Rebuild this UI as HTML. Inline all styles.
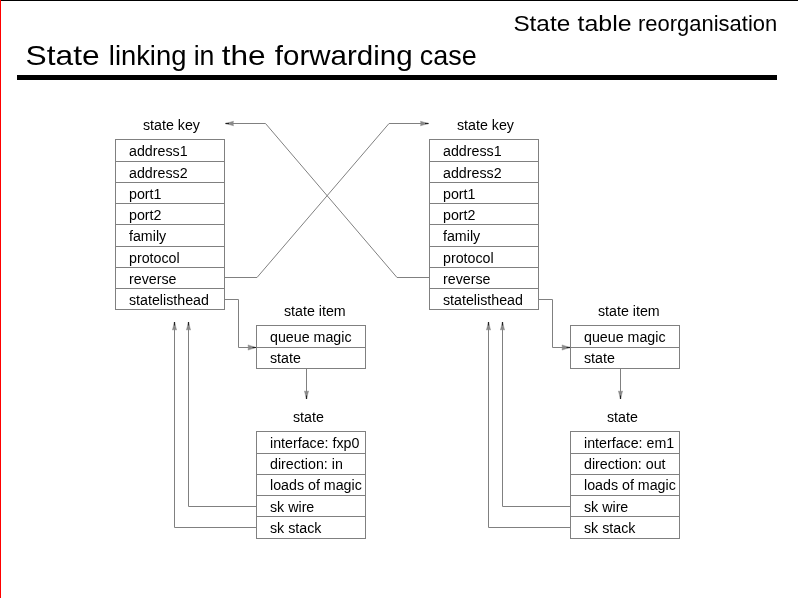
<!DOCTYPE html>
<html><head><meta charset="utf-8"><style>
html,body{margin:0;padding:0;background:#fff;}
body{width:798px;height:598px;position:relative;overflow:hidden;}
#top{position:absolute;left:0;top:0;width:798px;height:1px;background:#000;}
#left{position:absolute;left:0;top:0;width:1px;height:598px;background:#f00;}
#bar{position:absolute;left:17px;top:75px;width:760px;height:5px;background:#000;}
.t{position:absolute;font-family:"Liberation Sans",sans-serif;white-space:nowrap;color:#000;line-height:1;}
#title{left:26px;top:40px;font-size:28px;}
#sub{left:513px;top:11px;font-size:21px;}
svg{position:absolute;left:0;top:0;}
text,.t{-webkit-font-smoothing:antialiased;}
svg text{will-change:transform}
</style></head><body>
<div id="top"></div>
<svg width="798" height="598" viewBox="0 0 798 598"><g font-family="Liberation Sans" fill="#000"><text x="25.6" y="65.3" font-size="28" textLength="74" lengthAdjust="spacingAndGlyphs">State</text>
<text x="108.8" y="65.3" font-size="28" textLength="77.6" lengthAdjust="spacingAndGlyphs">linking</text>
<text x="193.7" y="65.3" font-size="28" textLength="20.8" lengthAdjust="spacingAndGlyphs">in</text>
<text x="221.7" y="65.3" font-size="28" textLength="43.9" lengthAdjust="spacingAndGlyphs">the</text>
<text x="274.8" y="65.3" font-size="28" textLength="137.8" lengthAdjust="spacingAndGlyphs">forwarding</text>
<text x="419.8" y="65.3" font-size="28" textLength="56.9" lengthAdjust="spacingAndGlyphs">case</text><text x="513.4" y="31.3" font-size="22" textLength="56.8" lengthAdjust="spacingAndGlyphs">State</text>
<text x="577.5" y="31.3" font-size="22" textLength="54.1" lengthAdjust="spacingAndGlyphs">table</text>
<text x="638" y="31.3" font-size="22" textLength="139.2" lengthAdjust="spacingAndGlyphs">reorganisation</text></g></svg>
<div id="bar"></div><div id="left"></div>
<svg width="798" height="598" viewBox="0 0 798 598">
<g stroke="#808080" stroke-width="1" fill="none">
<rect x="115.5" y="139.5" width="109" height="170"/>
<polyline points="115.5,161.5 224.5,161.5"/>
<polyline points="115.5,182.5 224.5,182.5"/>
<polyline points="115.5,203.5 224.5,203.5"/>
<polyline points="115.5,224.5 224.5,224.5"/>
<polyline points="115.5,246.5 224.5,246.5"/>
<polyline points="115.5,267.5 224.5,267.5"/>
<polyline points="115.5,288.5 224.5,288.5"/>
<polyline points="224.5,299.5 238.5,299.5 238.5,347.5 256.5,347.5"/>
<rect x="256.5" y="325.5" width="109" height="43"/>
<polyline points="256.5,347.5 365.5,347.5"/>
<polyline points="306.5,368.5 306.5,399"/>
<rect x="256.5" y="431.5" width="109" height="107"/>
<polyline points="256.5,453.5 365.5,453.5"/>
<polyline points="256.5,474.5 365.5,474.5"/>
<polyline points="256.5,495.5 365.5,495.5"/>
<polyline points="256.5,516.5 365.5,516.5"/>
<polyline points="256.5,506.5 188.5,506.5 188.5,322"/>
<polyline points="256.5,527.5 174.5,527.5 174.5,322"/>
</g>
<g stroke="#808080" stroke-width="1" fill="none">
<polygon points="256,347.5 248,350.1 248.4,347.5 248,344.9" fill="#8a8a8a" stroke="#808080" stroke-width="0.4"/><line x1="256" y1="347.5" x2="252.5" y2="347.5" stroke="#202020" stroke-width="1.2"/>
<polygon points="306.5,399 304.4,391 306.5,391.4 308.6,391" fill="#8a8a8a" stroke="#808080" stroke-width="0.4"/><line x1="306.5" y1="399" x2="306.5" y2="395.5" stroke="#202020" stroke-width="1.2"/>
<polygon points="174.5,322 176.6,330 174.5,329.6 172.4,330" fill="#8a8a8a" stroke="#808080" stroke-width="0.4"/><line x1="174.5" y1="322" x2="174.5" y2="325.5" stroke="#202020" stroke-width="1.2"/>
<polygon points="188.5,322 190.6,330 188.5,329.6 186.4,330" fill="#8a8a8a" stroke="#808080" stroke-width="0.4"/><line x1="188.5" y1="322" x2="188.5" y2="325.5" stroke="#202020" stroke-width="1.2"/>
</g>
<g font-family="Liberation Sans" font-size="15.5" fill="#000">
<text transform="translate(143,129.6) scale(0.919,1)">state key</text>
<text transform="translate(129,156.35) scale(0.919,1)">address1</text>
<text transform="translate(129,177.6) scale(0.919,1)">address2</text>
<text transform="translate(129,198.85) scale(0.919,1)">port1</text>
<text transform="translate(129,220.1) scale(0.919,1)">port2</text>
<text transform="translate(129,241.35) scale(0.919,1)">family</text>
<text transform="translate(129,262.6) scale(0.919,1)">protocol</text>
<text transform="translate(129,283.85) scale(0.919,1)">reverse</text>
<text transform="translate(129,305.1) scale(0.919,1)">statelisthead</text>
<text transform="translate(284,315.6) scale(0.919,1)">state item</text>
<text transform="translate(270,341.6) scale(0.919,1)">queue magic</text>
<text transform="translate(270,362.6) scale(0.919,1)">state</text>
<text transform="translate(293,421.6) scale(0.919,1)">state</text>
<text transform="translate(270,447.85) scale(0.919,1)">interface: fxp0</text>
<text transform="translate(270,469.1) scale(0.919,1)">direction: in</text>
<text transform="translate(270,490.35) scale(0.919,1)">loads of magic</text>
<text transform="translate(270,511.6) scale(0.919,1)">sk wire</text>
<text transform="translate(270,532.85) scale(0.919,1)">sk stack</text>
</g>
<g stroke="#808080" stroke-width="1" fill="none">
<rect x="429.5" y="139.5" width="109" height="170"/>
<polyline points="429.5,161.5 538.5,161.5"/>
<polyline points="429.5,182.5 538.5,182.5"/>
<polyline points="429.5,203.5 538.5,203.5"/>
<polyline points="429.5,224.5 538.5,224.5"/>
<polyline points="429.5,246.5 538.5,246.5"/>
<polyline points="429.5,267.5 538.5,267.5"/>
<polyline points="429.5,288.5 538.5,288.5"/>
<polyline points="538.5,299.5 552.5,299.5 552.5,347.5 570.5,347.5"/>
<rect x="570.5" y="325.5" width="109" height="43"/>
<polyline points="570.5,347.5 679.5,347.5"/>
<polyline points="620.5,368.5 620.5,399"/>
<rect x="570.5" y="431.5" width="109" height="107"/>
<polyline points="570.5,453.5 679.5,453.5"/>
<polyline points="570.5,474.5 679.5,474.5"/>
<polyline points="570.5,495.5 679.5,495.5"/>
<polyline points="570.5,516.5 679.5,516.5"/>
<polyline points="570.5,506.5 502.5,506.5 502.5,322"/>
<polyline points="570.5,527.5 488.5,527.5 488.5,322"/>
</g>
<g stroke="#808080" stroke-width="1" fill="none">
<polygon points="570,347.5 562,350.1 562.4,347.5 562,344.9" fill="#8a8a8a" stroke="#808080" stroke-width="0.4"/><line x1="570" y1="347.5" x2="566.5" y2="347.5" stroke="#202020" stroke-width="1.2"/>
<polygon points="620.5,399 618.4,391 620.5,391.4 622.6,391" fill="#8a8a8a" stroke="#808080" stroke-width="0.4"/><line x1="620.5" y1="399" x2="620.5" y2="395.5" stroke="#202020" stroke-width="1.2"/>
<polygon points="488.5,322 490.6,330 488.5,329.6 486.4,330" fill="#8a8a8a" stroke="#808080" stroke-width="0.4"/><line x1="488.5" y1="322" x2="488.5" y2="325.5" stroke="#202020" stroke-width="1.2"/>
<polygon points="502.5,322 504.6,330 502.5,329.6 500.4,330" fill="#8a8a8a" stroke="#808080" stroke-width="0.4"/><line x1="502.5" y1="322" x2="502.5" y2="325.5" stroke="#202020" stroke-width="1.2"/>
</g>
<g font-family="Liberation Sans" font-size="15.5" fill="#000">
<text transform="translate(457,129.6) scale(0.919,1)">state key</text>
<text transform="translate(443,156.35) scale(0.919,1)">address1</text>
<text transform="translate(443,177.6) scale(0.919,1)">address2</text>
<text transform="translate(443,198.85) scale(0.919,1)">port1</text>
<text transform="translate(443,220.1) scale(0.919,1)">port2</text>
<text transform="translate(443,241.35) scale(0.919,1)">family</text>
<text transform="translate(443,262.6) scale(0.919,1)">protocol</text>
<text transform="translate(443,283.85) scale(0.919,1)">reverse</text>
<text transform="translate(443,305.1) scale(0.919,1)">statelisthead</text>
<text transform="translate(598,315.6) scale(0.919,1)">state item</text>
<text transform="translate(584,341.6) scale(0.919,1)">queue magic</text>
<text transform="translate(584,362.6) scale(0.919,1)">state</text>
<text transform="translate(607,421.6) scale(0.919,1)">state</text>
<text transform="translate(584,447.85) scale(0.919,1)">interface: em1</text>
<text transform="translate(584,469.1) scale(0.919,1)">direction: out</text>
<text transform="translate(584,490.35) scale(0.919,1)">loads of magic</text>
<text transform="translate(584,511.6) scale(0.919,1)">sk wire</text>
<text transform="translate(584,532.85) scale(0.919,1)">sk stack</text>
</g>
<g stroke="#808080" stroke-width="1" fill="none">
<polyline points="429.5,277.5 397,277.5 265.5,123.5 226,123.5"/>
<polyline points="224.5,277.5 257,277.5 389,123.5 428,123.5"/>
<polygon points="225.5,123.5 233.5,121.2 233.1,123.5 233.5,125.8" fill="#8a8a8a" stroke="#808080" stroke-width="0.4"/><line x1="225.5" y1="123.5" x2="229" y2="123.5" stroke="#202020" stroke-width="1.2"/>
<polygon points="428.5,123.5 420.5,125.8 420.9,123.5 420.5,121.2" fill="#8a8a8a" stroke="#808080" stroke-width="0.4"/><line x1="428.5" y1="123.5" x2="425" y2="123.5" stroke="#202020" stroke-width="1.2"/>
</g>
</svg>
</body></html>
